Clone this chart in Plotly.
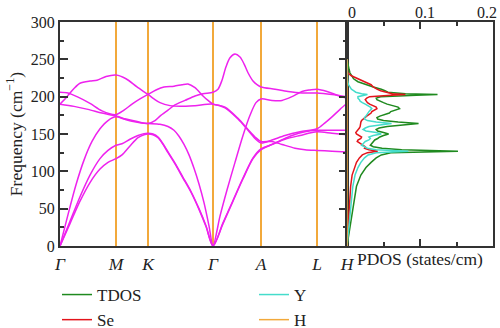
import plotly.graph_objects as go

# ---------------- data ----------------
kpoint_pos = [0, 56, 88, 153, 201, 257, 287]
kpoint_lbl = ["Γ", "M", "K", "Γ", "A", "L", "H"]

band1_x = [0, 10, 20, 30, 40, 48, 56, 62, 70, 78, 84, 88, 93, 98, 103, 108, 115, 123, 131, 139, 146, 153,
           163, 173, 183, 193, 201, 210, 220, 232, 245, 257, 272, 287]
band1_f = [0, 30, 60, 85, 103, 112, 117, 122, 134, 145, 149, 150, 149, 145, 136, 125, 110, 91, 72, 49, 26, 0,
           30, 60, 90, 117, 129, 135, 141, 148, 153, 155, 155, 155]

band2_x = [0, 10, 20, 30, 40, 48, 56, 62, 70, 78, 84, 88, 93, 98, 103, 108, 115, 123, 131, 139, 146, 153,
           163, 173, 183, 193, 201, 212, 225, 240, 257, 272, 287]
band2_f = [0, 33, 66, 95, 117, 128, 135, 137, 143, 148, 150.5, 151, 150, 146, 137, 126, 111, 92, 73, 50, 27, 0,
           31, 61, 91, 118, 130, 136, 143, 148, 153, 151, 149]

band3_x = [0, 8, 16, 24, 32, 40, 48, 56, 64, 72, 80, 88, 100, 108, 114, 119, 124, 129, 134, 139, 144, 149, 153,
           160, 167, 175, 183, 190, 196, 201, 212, 222, 232, 242, 250, 257, 267, 277, 287]
band3_f = [0, 42, 82, 115, 140, 157, 168, 173, 170, 167, 165, 164, 163, 160, 155, 147, 136, 122, 104, 83, 58, 27, 0,
           40, 75, 112, 148, 175, 192, 197, 195, 195, 200, 207, 209, 210, 207, 202, 198]

band4_x = [0, 14, 28, 42, 56, 66, 76, 88, 95, 100, 108, 115, 125, 135, 143, 153,
           158, 162, 166, 170, 175, 180, 184, 188, 193, 197, 201, 215, 228, 242, 257, 272, 287]
band4_f = [190, 187, 183, 178, 174, 170, 167, 164, 168, 174, 182, 189, 195, 201, 204, 206,
           210, 222, 240, 252, 257, 253, 244, 232, 221, 216, 213, 210, 207, 205, 205, 203, 200]

band5_x = [0, 8, 17, 30, 42, 56, 64, 72, 80, 88, 96, 104, 114, 122, 128, 135, 143, 148, 153,
           165, 178, 188, 195, 201, 212, 222, 235, 245, 257, 272, 287]
band5_f = [206, 205, 200, 191, 181, 176, 182, 190, 197, 203, 209, 213, 214, 216, 217, 212, 201, 195, 190,
           186, 171, 156, 146, 140, 140, 136, 131, 129, 128, 127, 126]

band6_x = [0, 7, 14, 20, 30, 37, 46, 56, 66, 77, 88, 94, 100, 110, 120, 135, 153,
           165, 178, 188, 195, 201, 212, 225, 240, 257, 265, 272, 280, 287]
band6_f = [190, 200, 211, 218, 221, 222, 227, 229, 224, 213, 203, 197, 192, 188, 187, 188, 190,
           185, 170, 155, 144, 138, 142, 148, 153, 157, 165, 173, 183, 191]

bands = [(band1_x, band1_f), (band2_x, band2_f), (band3_x, band3_f),
         (band4_x, band4_f), (band5_x, band5_f), (band6_x, band6_f)]

dos_freq = [0, 20, 40, 60, 80, 95, 105, 112, 118, 122, 125, 127, 129, 131, 133, 135, 137, 140, 142, 144,
            146, 148, 150, 152, 154, 156, 158, 160, 162, 164, 166, 168, 170, 172, 174, 176, 178, 180,
            182, 184, 186, 188, 190, 192, 194, 196, 198, 200, 202, 203, 204, 206, 208, 210, 213, 216,
            220, 224, 228, 232, 236, 240, 245, 250]
tdos = [0, 0.003, 0.006, 0.009, 0.013, 0.019, 0.026, 0.033, 0.040, 0.047, 0.060, 0.152, 0.075, 0.048,
        0.036, 0.032, 0.034, 0.036, 0.038, 0.042, 0.045, 0.050, 0.057, 0.050, 0.042, 0.040, 0.044, 0.055,
        0.075, 0.098, 0.070, 0.050, 0.042, 0.041, 0.045, 0.052, 0.058, 0.060, 0.066, 0.072, 0.070, 0.060,
        0.055, 0.050, 0.045, 0.041, 0.040, 0.046, 0.095, 0.124, 0.080, 0.056, 0.052, 0.047, 0.036, 0.027,
        0.015, 0.009, 0.006, 0.004, 0.003, 0.002, 0.001, 0]
se_dos = [0, 0.001, 0.002, 0.003, 0.005, 0.007, 0.010, 0.013, 0.017, 0.021, 0.028, 0.042, 0.030, 0.024,
          0.025, 0.022, 0.019, 0.014, 0.015, 0.019, 0.020, 0.016, 0.013, 0.012, 0.014, 0.016, 0.017, 0.018,
          0.018, 0.019, 0.019, 0.020, 0.022, 0.024, 0.027, 0.030, 0.033, 0.034, 0.038, 0.041, 0.040, 0.034,
          0.031, 0.028, 0.026, 0.025, 0.027, 0.031, 0.060, 0.080, 0.062, 0.052, 0.046, 0.041, 0.036, 0.033,
          0.024, 0.014, 0.006, 0.001, 0, 0, 0, 0]
y_dos = [0, 0.002, 0.004, 0.006, 0.008, 0.011, 0.015, 0.019, 0.024, 0.029, 0.040, 0.084, 0.040, 0.028,
         0.024, 0.020, 0.022, 0.025, 0.030, 0.032, 0.030, 0.036, 0.047, 0.040, 0.026, 0.022, 0.025, 0.030,
         0.045, 0.061, 0.040, 0.028, 0.024, 0.024, 0.026, 0.027, 0.029, 0.030, 0.032, 0.034, 0.032, 0.029,
         0.025, 0.021, 0.018, 0.017, 0.015, 0.015, 0.022, 0.028, 0.020, 0.012, 0.009, 0.006, 0.004, 0.002,
         0.001, 0.001, 0, 0, 0, 0, 0, 0]
h_freq = [0, 250]
h_dos = [0, 0]

dos_tickvals = [0, 0.1, 0.2]
dos_ticktext = ["0", "0.1", "0.2"]

# ---------------- style ----------------
FONT = "Liberation Serif"
TXT = "#222222"
F16 = dict(family=FONT, size=16, color=TXT)
F17 = dict(family=FONT, size=17.5, color=TXT)
FLEG = dict(family=FONT, size=17, color=TXT)
AX = "#333333"
BAND_C = "#EE22EE"
KLINE_C = "#F2A93B"

fig = go.Figure()
for bx, bf in bands:
    fig.add_trace(go.Scatter(x=bx, y=bf, mode="lines", line=dict(color=BAND_C, width=1.5, shape="spline",
                                                                  smoothing=0.8),
                             showlegend=False, hoverinfo="skip", xaxis="x", yaxis="y"))

fig.add_trace(go.Scatter(x=tdos, y=dos_freq, mode="lines", name="TDOS", line=dict(color="#1F8A1F", width=1.5),
                         xaxis="x2", yaxis="y2", legend="legend", legendgroup="a"))
fig.add_trace(go.Scatter(x=y_dos, y=dos_freq, mode="lines", name="Y", line=dict(color="#45DCCB", width=1.5),
                         xaxis="x3", yaxis="y2", legend="legend2", legendgroup="c"))
fig.add_trace(go.Scatter(x=se_dos, y=dos_freq, mode="lines", name="Se", line=dict(color="#E3141B", width=1.5),
                         xaxis="x2", yaxis="y2", legend="legend", legendgroup="b"))
fig.add_trace(go.Scatter(x=h_dos, y=h_freq, mode="lines", name="H", line=dict(color=KLINE_C, width=1.5),
                         xaxis="x4", yaxis="y2", legend="legend2", legendgroup="d"))

dom_b = [60 / 500, 347 / 500]
dom_d = [347 / 500, 493 / 500]
dom_y = [(328 - 246) / 328, (328 - 22) / 328]
dos_range = [dos_tickvals[0], dos_tickvals[-1]]

fig.update_layout(
    width=500, height=328, margin=dict(l=0, r=0, t=0, b=0, autoexpand=False),
    paper_bgcolor="white", plot_bgcolor="white",
    font=F16,
    xaxis=dict(domain=dom_b, range=[kpoint_pos[0], kpoint_pos[-1]], tickvals=kpoint_pos,
               ticktext=["<i>%s</i>" % t for t in kpoint_lbl], ticks="", showgrid=True, tickfont=F17,
               gridcolor=KLINE_C, gridwidth=1.5, zeroline=False, showline=True, linecolor=AX,
               linewidth=2, mirror=True, anchor="y", ticklabelstandoff=1, automargin=False),
    yaxis=dict(domain=dom_y, range=[0, 300], dtick=50, ticks="inside", ticklen=8, tickcolor=AX,
               tickwidth=1.5, minor=dict(dtick=25, ticks="inside", ticklen=4, tickcolor=AX), tickfont=F16,
               showgrid=False, zeroline=False, showline=True, linecolor=AX, linewidth=2, mirror="ticks",
               title=dict(text="Frequency (cm<sup>−1</sup>)", standoff=4, font=F17), anchor="x",
               automargin=False),
    xaxis2=dict(domain=dom_d, range=dos_range, dtick=0.1, ticks="inside", ticklen=7, tickcolor=AX,
                tickwidth=1.5, minor=dict(dtick=0.05, ticks="inside", ticklen=4, tickcolor=AX),
                showticklabels=False, showgrid=False, zeroline=False, showline=True, linecolor=AX,
                linewidth=2, mirror="ticks", anchor="y2", automargin=False,
                title=dict(text="PDOS (states/cm)", standoff=6, font=F17)),
    xaxis3=dict(overlaying="x2", side="top", range=dos_range, tickvals=dos_tickvals[:2],
                ticktext=dos_ticktext[:2], ticks="", showgrid=False, zeroline=False, showline=False,
                anchor="y2", automargin=False, tickfont=F16, ticklabelshift=5),
    xaxis4=dict(overlaying="x2", side="top", range=dos_range, tickvals=dos_tickvals[2:],
                ticktext=dos_ticktext[2:], ticks="", showgrid=False, zeroline=False, showline=False,
                anchor="y2", automargin=False, tickfont=F16, ticklabelshift=-6, ticklabeloverflow="allow"),
    yaxis2=dict(domain=dom_y, range=[0, 300], showticklabels=False, ticks="", showgrid=False,
                zeroline=False, showline=True, linecolor=AX, linewidth=2, mirror=True, anchor="x2",
                automargin=False),
    legend=dict(x=57 / 500, y=(328 - 277) / 328, xanchor="left", yanchor="top", bgcolor="rgba(0,0,0,0)",
                font=FLEG, tracegroupgap=0, traceorder="grouped"),
    legend2=dict(x=254 / 500, y=(328 - 277) / 328, xanchor="left", yanchor="top", bgcolor="rgba(0,0,0,0)",
                 font=FLEG, tracegroupgap=0, traceorder="grouped"),
)

fig.write_html("out.html")
